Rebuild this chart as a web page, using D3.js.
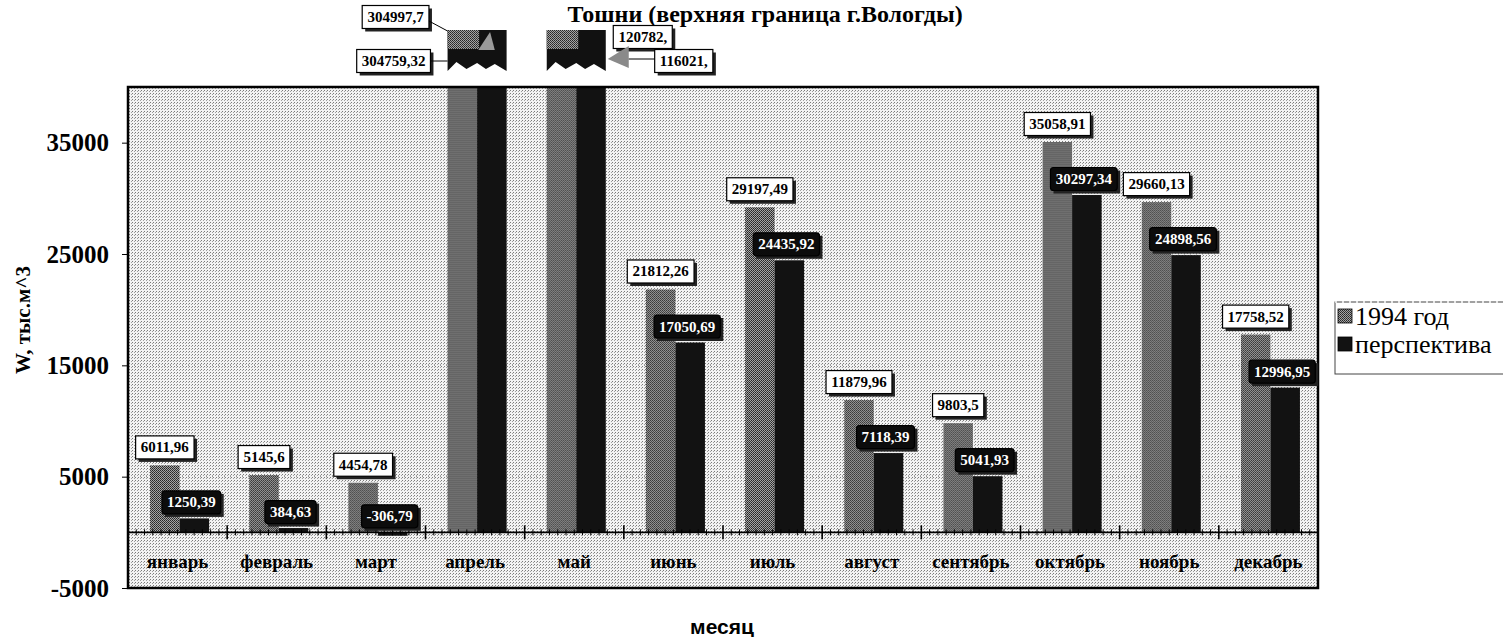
<!DOCTYPE html>
<html>
<head>
<meta charset="utf-8">
<script src="https://cdn.jsdelivr.net/npm/d3@7"></script>
<style>
  body { margin: 0; background: #fff; }
  svg { display: block; }
</style>
</head>
<body>
<script>
// data
var months = ['январь', 'февраль', 'март', 'апрель', 'май', 'июнь', 'июль', 'август', 'сентябрь', 'октябрь', 'ноябрь', 'декабрь'];
var series = ['1994 год', 'перспектива'];
var values1994 = [6011.96, 5145.6, 4454.78, 304997.7, 120782, 21812.26, 29197.49, 11879.96, 9803.5, 35058.91, 29660.13, 17758.52];
var valuesPersp = [1250.39, 384.63, -306.79, 304759.32, 116021, 17050.69, 24435.92, 7118.39, 5041.93, 30297.34, 24898.56, 12996.95];
var labels1994 = ['6011,96', '5145,6', '4454,78', '304997,7', '120782,', '21812,26', '29197,49', '11879,96', '9803,5', '35058,91', '29660,13', '17758,52'];
var labelsPersp = ['1250,39', '384,63', '-306,79', '304759,32', '116021,', '17050,69', '24435,92', '7118,39', '5041,93', '30297,34', '24898,56', '12996,95'];
var yTicks = [-5000, 5000, 15000, 25000, 35000];

var width = 1503, height = 637;
var plot = { left: 128, right: 1318, top: 87, bottom: 588 };
var serif = "'Liberation Serif','Times New Roman',serif";
var sans = "'Liberation Sans',Arial,sans-serif";

var svg = d3.select('body').append('svg')
    .attr('width', width)
    .attr('height', height);

var defs = svg.append('defs');

// stippled background
var bg = defs.append('pattern').attr('id', 'bgDots')
    .attr('width', 3).attr('height', 3).attr('patternUnits', 'userSpaceOnUse');
bg.append('rect').attr('width', 3).attr('height', 3).attr('fill', '#f3f3f3');
bg.append('rect').attr('x', 0).attr('y', 0).attr('width', 1).attr('height', 1).attr('fill', '#7a7a7a');
bg.append('rect').attr('x', 2).attr('y', 1).attr('width', 1).attr('height', 1).attr('fill', '#a0a0a0');

// halftone for the 1994 bars
var chk = defs.append('pattern').attr('id', 'checker')
    .attr('width', 2).attr('height', 2).attr('patternUnits', 'userSpaceOnUse');
chk.append('rect').attr('width', 2).attr('height', 2).attr('fill', '#a4a4a4');
chk.append('rect').attr('width', 1).attr('height', 1).attr('fill', '#262626');
chk.append('rect').attr('x', 1).attr('y', 1).attr('width', 1).attr('height', 1).attr('fill', '#3a3a3a');

defs.append('clipPath').attr('id', 'plotClip')
    .append('rect')
    .attr('x', plot.left).attr('y', plot.top)
    .attr('width', plot.right - plot.left).attr('height', plot.bottom - plot.top);

var seriesFill = ['url(#checker)', '#121212'];

var x0 = d3.scaleBand()
    .domain(months)
    .range([plot.left, plot.right]);

var x1 = d3.scaleBand()
    .domain(series)
    .range([0, x0.bandwidth()])
    .paddingInner(0)
    .paddingOuter(0.68)
    .align(0.55);

var y = d3.scaleLinear()
    .domain([-5000, 40000])
    .range([plot.bottom, plot.top]);

var rows = months.map(function (m, i) {
    return {
        month: m,
        vals: [
            { s: series[0], v: values1994[i], label: labels1994[i] },
            { s: series[1], v: valuesPersp[i], label: labelsPersp[i] }
        ]
    };
});

// title
svg.append('text')
    .attr('x', 765).attr('y', 22)
    .attr('text-anchor', 'middle')
    .style('font-family', serif).style('font-weight', 'bold').style('font-size', '24px')
    .text('Тошни (верхняя граница г.Вологды)');

// plot background
svg.append('rect')
    .attr('x', plot.left).attr('y', plot.top)
    .attr('width', plot.right - plot.left).attr('height', plot.bottom - plot.top)
    .attr('fill', 'url(#bgDots)');

// faint gridlines
svg.append('g').selectAll('line')
    .data(yTicks.filter(function (d) { return d > -5000; }))
    .enter().append('line')
    .attr('x1', plot.left).attr('x2', plot.right)
    .attr('y1', function (d) { return y(d); })
    .attr('y2', function (d) { return y(d); })
    .attr('stroke', '#8a8a8a')
    .attr('stroke-width', 1)
    .attr('stroke-dasharray', '1,5');

// bars
var barLayer = svg.append('g').attr('clip-path', 'url(#plotClip)');
var groups = barLayer.selectAll('g.month')
    .data(rows)
    .enter().append('g')
    .attr('class', 'month')
    .attr('transform', function (d) { return 'translate(' + x0(d.month) + ',0)'; });

groups.selectAll('rect')
    .data(function (d) { return d.vals; })
    .enter().append('rect')
    .attr('x', function (d) { return x1(d.s); })
    .attr('width', x1.bandwidth())
    .attr('y', function (d) { return y(Math.max(0, d.v)); })
    .attr('height', function (d) { return Math.abs(y(d.v) - y(0)); })
    .attr('fill', function (d, i) { return seriesFill[i]; });

// zero axis with ticks
var y0 = y(0);
var axisG = svg.append('g');
axisG.append('line')
    .attr('x1', plot.left).attr('x2', plot.right)
    .attr('y1', y0).attr('y2', y0)
    .attr('stroke', '#000').attr('stroke-width', 1.6);

var minorTicks = [];
months.forEach(function (m) {
    for (var k = 1; k < 12; k++) minorTicks.push(x0(m) + k * x0.bandwidth() / 12);
});
axisG.selectAll('line.minor')
    .data(minorTicks)
    .enter().append('line')
    .attr('class', 'minor')
    .attr('x1', function (d) { return d; }).attr('x2', function (d) { return d; })
    .attr('y1', y0 - 3).attr('y2', y0 + 3)
    .attr('stroke', '#000').attr('stroke-width', 1);

axisG.selectAll('line.major')
    .data(months.slice(1))
    .enter().append('line')
    .attr('class', 'major')
    .attr('x1', function (d) { return x0(d); }).attr('x2', function (d) { return x0(d); })
    .attr('y1', y0 - 7).attr('y2', y0 + 7)
    .attr('stroke', '#000').attr('stroke-width', 1.6);

axisG.selectAll('text.cat')
    .data(months)
    .enter().append('text')
    .attr('class', 'cat')
    .attr('x', function (d) { return x0(d) + x0.bandwidth() / 2; })
    .attr('y', 561)
    .attr('text-anchor', 'middle')
    .attr('dominant-baseline', 'central')
    .style('font-family', serif).style('font-weight', 'bold').style('font-size', '19px')
    .text(function (d) { return d; });

// frame
svg.append('rect')
    .attr('x', plot.left).attr('y', plot.top)
    .attr('width', plot.right - plot.left).attr('height', plot.bottom - plot.top)
    .attr('fill', 'none').attr('stroke', '#000').attr('stroke-width', 2.5);

// y axis
var axisY = d3.axisLeft(y)
    .tickValues(yTicks)
    .tickSize(6)
    .tickPadding(13)
    .tickFormat(function (d) { return String(d); });

var gy = svg.append('g')
    .attr('transform', 'translate(' + plot.left + ',0)')
    .call(axisY);
gy.select('.domain').remove();
gy.selectAll('text')
    .style('font-family', serif).style('font-size', '25px').style('font-weight', 'bold')
    .attr('fill', '#000');

svg.append('text')
    .attr('transform', 'translate(23,320) rotate(-90)')
    .attr('text-anchor', 'middle')
    .attr('dominant-baseline', 'central')
    .style('font-family', serif).style('font-weight', 'bold').style('font-size', '21px')
    .text('W, тыс.м^3');

svg.append('text')
    .attr('x', 722).attr('y', 626)
    .attr('text-anchor', 'middle')
    .attr('dominant-baseline', 'central')
    .style('font-family', sans).style('font-weight', 'bold').style('font-size', '21px')
    .text('месяц');

// data labels
var labelLayer = svg.append('g');

function drawLabel(cx, cy, txt, dark) {
    var g = labelLayer.append('g');
    var t = g.append('text')
        .attr('x', cx).attr('y', cy)
        .attr('text-anchor', 'middle')
        .attr('dominant-baseline', 'central')
        .style('font-family', serif).style('font-weight', 'bold').style('font-size', '15px')
        .attr('fill', dark ? '#fff' : '#000')
        .text(txt);
    var bb = t.node().getBBox();
    var w = bb.width + 10, h = 23;
    g.insert('rect', 'text')
        .attr('x', cx - w / 2 + 3).attr('y', cy - h / 2 + 3)
        .attr('width', w).attr('height', h)
        .attr('fill', '#222');
    g.insert('rect', 'text')
        .attr('x', cx - w / 2).attr('y', cy - h / 2)
        .attr('width', w).attr('height', h)
        .attr('rx', dark ? 3 : 0)
        .attr('fill', dark ? '#0c0c0c' : '#fff')
        .attr('stroke', '#000').attr('stroke-width', 1.2);
    return { x0: cx - w / 2, x1: cx + w / 2, y0: cy - h / 2, y1: cy + h / 2 };
}

var yMax = y.domain()[1];
var broken = [];
rows.forEach(function (r) {
    if (r.vals[0].v > yMax) { broken.push(r); return; }
    var a = r.vals[0], b = r.vals[1];
    drawLabel(x0(r.month) + x1(a.s) + x1.bandwidth() / 2, y(Math.max(0, a.v)) - 18, a.label, false);
    drawLabel(x0(r.month) + x1(b.s) + x1.bandwidth() / 2 - 3, y(Math.max(0, b.v)) - 16, b.label, true);
});

// broken-off bar tops above the frame
var stubTop = 30, stubBottom = 71;
broken.forEach(function (r, k) {
    var bx0 = x0(r.month) + x1(series[0]);
    var bx1 = x0(r.month) + x1(series[1]) + x1.bandwidth();
    var span = bx1 - bx0;
    var wave = [[1, 0], [0.8, -7], [0.65, -2], [0.5, -8], [0.32, -2], [0.15, -9], [0, 0]];
    var pts = [[bx0, stubTop], [bx1, stubTop]].concat(wave.map(function (p) {
        return [bx0 + p[0] * span, stubBottom + p[1]];
    }));
    svg.append('path')
        .attr('d', d3.line()(pts) + 'Z')
        .attr('fill', '#111');
    svg.append('rect')
        .attr('x', bx0).attr('y', stubTop)
        .attr('width', x1.bandwidth() + 2).attr('height', 19)
        .attr('fill', 'url(#checker)');

    var a = r.vals[0], b = r.vals[1];
    if (k === 0) {
        svg.append('path')
            .attr('d', d3.line()([[bx0 + span * 0.52, stubTop + 20], [bx0 + span * 0.72, stubTop + 2], [bx0 + span * 0.8, stubTop + 20]]) + 'Z')
            .attr('fill', '#9a9a9a');
        var la = drawLabel(bx0 - 52, 17, a.label, false);
        svg.append('line').attr('x1', la.x1).attr('y1', 21).attr('x2', bx0).attr('y2', stubTop + 1)
            .attr('stroke', '#000');
        var lb = drawLabel(bx0 - 54, 61, b.label, false);
        svg.append('line').attr('x1', lb.x1).attr('y1', 61).attr('x2', bx0).attr('y2', 61)
            .attr('stroke', '#000');
    } else {
        drawLabel(bx1 + 37, 37, a.label, false);
        svg.append('path')
            .attr('d', d3.line()([[bx1 + 2, 59], [bx1 + 23, 46], [bx1 + 23, 68]]) + 'Z')
            .attr('fill', '#8a8a8a');
        var lc = drawLabel(bx1 + 78, 61, b.label, false);
        svg.append('line').attr('x1', bx1 + 23).attr('y1', 59).attr('x2', lc.x0).attr('y2', 59)
            .attr('stroke', '#000');
    }
});

// legend
var legend = svg.append('g');
legend.append('rect')
    .attr('x', 1335).attr('y', 302)
    .attr('width', 175).attr('height', 72)
    .attr('fill', '#fff')
    .attr('stroke', '#444').attr('stroke-width', 1);
legend.append('line')
    .attr('x1', 1335).attr('x2', 1503).attr('y1', 302).attr('y2', 302)
    .attr('stroke', '#fff').attr('stroke-width', 1.5).attr('stroke-dasharray', '2,5');

var legendItems = legend.selectAll('g.item')
    .data(series)
    .enter().append('g')
    .attr('class', 'item')
    .attr('transform', function (d, i) { return 'translate(1338,' + (316 + i * 28) + ')'; });

legendItems.append('rect')
    .attr('x', 0).attr('y', -7)
    .attr('width', 14).attr('height', 14)
    .attr('fill', function (d, i) { return seriesFill[i]; })
    .attr('stroke', '#000').attr('stroke-width', 0.8);

legendItems.append('text')
    .attr('x', 17).attr('y', 0)
    .attr('dominant-baseline', 'central')
    .style('font-family', serif).style('font-size', '26px')
    .text(function (d) { return d; });
</script>
</body>
</html>
